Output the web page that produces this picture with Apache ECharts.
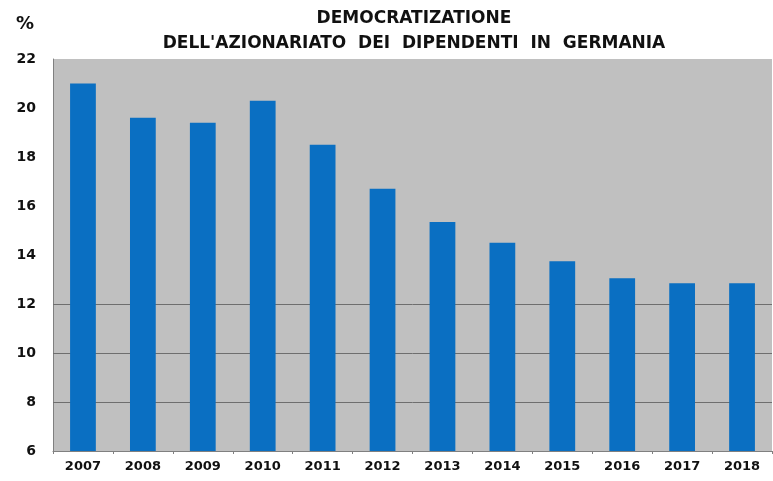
<!DOCTYPE html>
<html>
<head>
<meta charset="utf-8">
<script src="https://cdn.jsdelivr.net/npm/echarts@6/dist/echarts.min.js"></script>
<style>
  html, body { margin: 0; padding: 0; background: #fff; }
  #chart { width: 773px; height: 481px; }
</style>
</head>
<body>
<div id="chart"></div>
<script>
// anni e quote (%)
var years = ['2007', '2008', '2009', '2010', '2011', '2012', '2013', '2014', '2015', '2016', '2017', '2018']
var shares = [21.0, 19.6, 19.4, 20.3, 18.5, 16.7, 15.35, 14.5, 13.75, 13.05, 12.85, 12.85]
var gridValues = [8, 10, 12] // solo queste linee sono visibili

var chart = echarts.init(document.getElementById('chart'))

chart.setOption({
  animation: false,
  textStyle: {
    fontFamily: 'DejaVu Sans'
  },
  title: [{
    text: 'DEMOCRATIZATIONE\nDELL\'AZIONARIATO  DEI  DIPENDENTI  IN  GERMANIA',
    left: 409,
    top: 1,
    textAlign: 'center',
    textStyle: {
      fontSize: 17,
      fontWeight: 'bold',
      color: '#111',
      lineHeight: 25
    }
  }, {
    text: '%',
    left: 11,
    top: 10,
    textStyle: {
      fontSize: 18,
      fontWeight: 'bold',
      color: '#111'
    }
  }],
  grid: {
    left: 53,
    right: 1,
    top: 59,
    bottom: 30,
    show: true,
    backgroundColor: '#c0c0c0',
    borderWidth: 0
  },
  xAxis: {
    type: 'category',
    data: years,
    axisLine: { lineStyle: { color: '#808080', width: 1 } },
    axisTick: { show: true, length: 3, lineStyle: { color: '#808080' } },
    axisLabel: {
      margin: 9,
      fontSize: 13,
      fontWeight: 'bold',
      color: '#111'
    }
  },
  yAxis: {
    type: 'value',
    min: 6,
    max: 22,
    interval: 2,
    axisLine: { show: true, lineStyle: { color: '#808080', width: 1 } },
    axisTick: { show: false },
    splitLine: { show: false },
    axisLabel: {
      margin: 17,
      fontSize: 14,
      fontWeight: 'bold',
      color: '#111'
    }
  },
  series: [{
    type: 'bar',
    data: shares,
    barWidth: '43%',
    itemStyle: { color: '#0a6fc2' },
    markLine: {
      silent: true,
      z: 1,
      symbol: ['none', 'none'],
      label: { show: false },
      lineStyle: { color: '#6e6e6e', type: 'solid', width: 1 },
      data: gridValues.map(function(v) { return { yAxis: v } })
    }
  }]
})
</script>
</body>
</html>
